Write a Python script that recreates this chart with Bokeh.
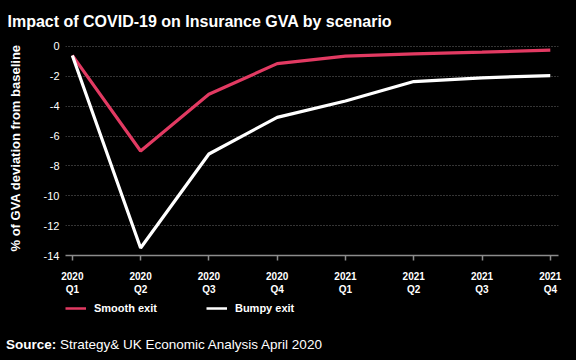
from bokeh.plotting import figure
from bokeh.layouts import column
from bokeh.models import (Range1d, FixedTicker, Legend, LegendItem, ColumnDataSource, Div)
from bokeh.embed import file_html
from bokeh.resources import INLINE

quarters = ["2020\nQ1", "2020\nQ2", "2020\nQ3", "2020\nQ4",
            "2021\nQ1", "2021\nQ2", "2021\nQ3", "2021\nQ4"]
smooth_exit = [-0.6, -7.0, -3.2, -1.15, -0.65, -0.5, -0.38, -0.25]
bumpy_exit = [-0.6, -13.5, -7.2, -4.75, -3.65, -2.35, -2.1, -1.95]
y_ticks = [0, -2, -4, -6, -8, -10, -12, -14]
series_names = ["Smooth exit", "Bumpy exit"]

RED = "#e23a62"
FONT = "Liberation Sans"

x = list(range(len(quarters)))
src = ColumnDataSource(dict(x=x, smooth=smooth_exit, bumpy=bumpy_exit))

p = figure(width=576, height=300, output_backend="svg", toolbar_location=None,
           x_range=Range1d(-0.1, 7.12), y_range=Range1d(-14, 0.4),
           background_fill_color="black", border_fill_color="black",
           min_border_left=65, min_border_right=18, min_border_top=40,
           min_border_bottom=45,
           title="Impact of COVID-19 on Insurance GVA by scenario")
p.outline_line_color = None

p.title.text_color = "white"
p.title.text_font = FONT
p.title.text_font_size = "16px"
p.title.text_font_style = "bold"
p.title.align = "left"
p.title.offset = -58
p.title.standoff = 21

p.line("x", "smooth", source=src, line_color=RED, line_width=3.2)
p.line("x", "bumpy", source=src, line_color="white", line_width=3.2)

# axes
p.xaxis.ticker = FixedTicker(ticks=x)
p.xaxis.major_label_overrides = {i: q for i, q in enumerate(quarters)}
p.xaxis.axis_line_color = "#8c8c8c"
p.xaxis.axis_line_width = 1.5
p.xaxis.major_tick_line_color = "#8c8c8c"
p.xaxis.major_tick_line_width = 1.5
p.xaxis.major_tick_in = 0
p.xaxis.major_tick_out = 5
p.xaxis.minor_tick_line_color = None
p.xaxis.major_label_text_color = "white"
p.xaxis.major_label_text_font = FONT
p.xaxis.major_label_text_font_size = "10px"
p.xaxis.major_label_text_font_style = "bold"
p.xaxis.major_label_text_line_height = 1.2
p.xaxis.major_label_standoff = 10

p.yaxis.ticker = FixedTicker(ticks=y_ticks)
p.yaxis.major_label_overrides = {v: str(v) for v in y_ticks}
p.yaxis.axis_line_color = None
p.yaxis.major_tick_line_color = None
p.yaxis.major_tick_out = 0
p.yaxis.major_tick_in = 0
p.yaxis.minor_tick_line_color = None
p.yaxis.major_label_text_color = "white"
p.yaxis.major_label_text_font = FONT
p.yaxis.major_label_text_font_size = "11px"
p.yaxis.major_label_standoff = 6
p.yaxis.axis_label = "% of GVA deviation from baseline"
p.yaxis.axis_label_text_color = "white"
p.yaxis.axis_label_text_font = FONT
p.yaxis.axis_label_text_font_size = "13px"
p.yaxis.axis_label_text_font_style = "bold"
p.yaxis.axis_label_standoff = 18

p.xgrid.grid_line_color = None
p.ygrid.grid_line_color = "#6a6a6a"
p.ygrid.grid_line_dash = "1 2"
p.ygrid.grid_line_width = 1

# legend strip (separate small figure under the chart, frame aligned with chart)
lg = figure(width=576, height=32, output_backend="svg", toolbar_location=None,
            x_axis_type=None, y_axis_type=None,
            x_range=Range1d(0, 1), y_range=Range1d(0, 1),
            background_fill_color="black", border_fill_color="black",
            min_border=0)
lg.outline_line_color = None
lg.grid.grid_line_color = None
# legend key renderers: same series, lying outside this strip's visible range
k1 = lg.line(x=x, y=smooth_exit, line_color=RED, line_width=2.5)
k2 = lg.line(x=x, y=bumpy_exit, line_color="white", line_width=2.5)
legend = Legend(items=[LegendItem(label=series_names[0], renderers=[k1]),
                       LegendItem(label=series_names[1], renderers=[k2])],
                orientation="horizontal", location=(0, 17),
                background_fill_alpha=0, border_line_color=None,
                label_text_color="white", label_text_font=FONT,
                label_text_font_size="11px", label_text_font_style="bold",
                glyph_width=21, glyph_height=14, label_height=14,
                spacing=49, label_standoff=8, padding=0, margin=0)
lg.add_layout(legend)

source_div = Div(text="<b>Source:</b> Strategy&amp; UK Economic Analysis April 2020",
                 width=569, height=28, margin=(0, 0, 0, 6),
                 styles={"color": "white", "font-family": FONT,
                         "font-size": "13.5px", "padding-top": "3px"})

layout = column(p, lg, source_div, spacing=0)

html = file_html(layout, INLINE)
html = html.replace("<body>", "<body style=\"background:black\">")
open("out.html", "w").write(html)
